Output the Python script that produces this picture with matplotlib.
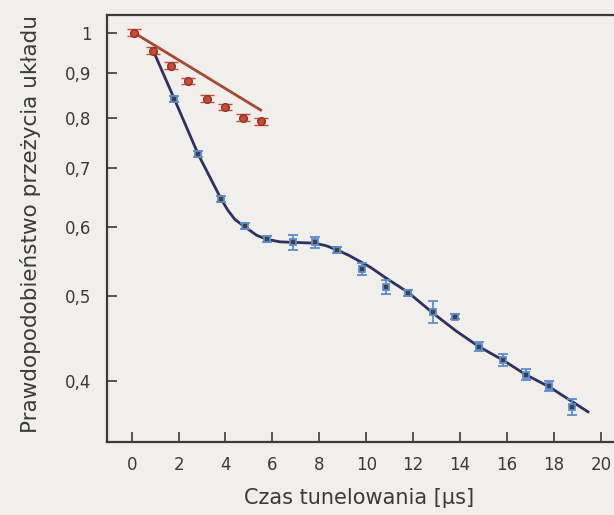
#!/usr/bin/env python3
"""Prawdopodobieństwo przeżycia układu w funkcji czasu tunelowania."""

import matplotlib.pyplot as plt
from matplotlib.ticker import FixedLocator, FixedFormatter, NullLocator

# punkty czerwone (bez efektu Zenona)
red_t = [0.1, 0.89, 1.66, 2.41, 3.2, 3.98, 4.76, 5.5]
red_p = [1.0, 0.954, 0.917, 0.881, 0.841, 0.823, 0.800, 0.792]
red_err = [0.0087, 0.0083, 0.0080, 0.0077, 0.0073, 0.0072, 0.0070, 0.0069]

# prosta dopasowana do punktów czerwonych (w skali log)
red_fit_t = [0.1, 5.5]
red_fit_p = [1.0, 0.816]

# punkty niebieskie
blue_t = [1.82, 2.84, 3.81, 4.83, 5.78, 6.86, 7.81, 8.76, 9.80, 10.84,
          11.79, 12.84, 13.80, 14.80, 15.81, 16.79, 17.80, 18.78]
blue_p = [0.840, 0.727, 0.646, 0.601, 0.581, 0.576, 0.576, 0.565, 0.537, 0.513,
          0.504, 0.480, 0.474, 0.438, 0.423, 0.407, 0.395, 0.374]
blue_err = [0.0066, 0.0057, 0.0051, 0.0047, 0.0045, 0.0111, 0.0083, 0.0045, 0.0085, 0.0094,
            0.0040, 0.0139, 0.0031, 0.0054, 0.0067, 0.0059, 0.0049, 0.0077]

# krzywa teoretyczna
curve_t = [0.92, 1.82, 2.84, 3.81, 4.1, 4.4, 4.83, 5.33, 5.75, 6.32, 7.0, 7.8,
           8.3, 8.74, 9.25, 9.73, 10.16, 10.87, 11.79, 12.86, 13.8, 14.8,
           15.81, 16.79, 17.8, 18.78, 19.45]
curve_p = [0.954, 0.840, 0.726, 0.646, 0.627, 0.612, 0.600, 0.587, 0.581, 0.577,
           0.576, 0.575, 0.571, 0.565, 0.557, 0.548, 0.540, 0.524, 0.505, 0.478,
           0.457, 0.438, 0.423, 0.407, 0.394, 0.379, 0.369]

x_ticks = [0, 2, 4, 6, 8, 10, 12, 14, 16, 18, 20]
y_ticks = [0.4, 0.5, 0.6, 0.7, 0.8, 0.9, 1.0]
y_labels = ["0,4", "0,5", "0,6", "0,7", "0,8", "0,9", "1"]

bg = "#f0efeb"
ink = "#3a3a3a"

fig = plt.figure(figsize=(6.14, 5.15), dpi=100, facecolor=bg)
ax = fig.add_axes([0.1743, 0.1417, 0.8425, 0.8291], facecolor=bg)
ax.set_yscale("log")

ax.plot(curve_t, curve_p, color="#2d3060", lw=2.0, zorder=2)
ax.plot(red_fit_t, red_fit_p, color="#a8472e", lw=2.0, zorder=2)

ax.errorbar(blue_t, blue_p, yerr=blue_err, fmt="s", ms=5, mfc="#3b4150",
            mec="#5b8ccf", mew=1.3, ecolor="#5b8ccf", elinewidth=1.3,
            capsize=3.5, capthick=1.6, zorder=3)
ax.errorbar(red_t, red_p, yerr=red_err, fmt="o", ms=5.5, mfc="#d9452c",
            mec="#7a3a2a", mew=1.0, ecolor="#d9452c", elinewidth=1.3,
            capsize=5, capthick=1.8, zorder=4)

ax.set_xlim(-1.05, 21.0)
ax.set_ylim(0.3408, 1.0477)

ax.xaxis.set_major_locator(FixedLocator(x_ticks))
ax.yaxis.set_major_locator(FixedLocator(y_ticks))
ax.yaxis.set_major_formatter(FixedFormatter(y_labels))
ax.yaxis.set_minor_locator(NullLocator())
ax.xaxis.set_minor_locator(NullLocator())

ax.tick_params(axis="both", direction="in", length=7, width=1.2, color=ink,
               labelsize=12, labelcolor=ink, top=False, right=False)
ax.tick_params(axis="x", pad=10)
ax.tick_params(axis="y", pad=11)

for side in ax.spines.values():
    side.set_color(ink)
    side.set_linewidth(1.6)

ax.set_xlabel("Czas tunelowania [µs]", fontsize=15, color=ink)
ax.set_ylabel("Prawdopodobieństwo przeżycia układu", fontsize=15.5, color=ink)
ax.yaxis.set_label_coords(-0.128, 0.51)
ax.xaxis.set_label_coords(0.487, -0.108)

fig.savefig("out.png", dpi=100, facecolor=bg)
